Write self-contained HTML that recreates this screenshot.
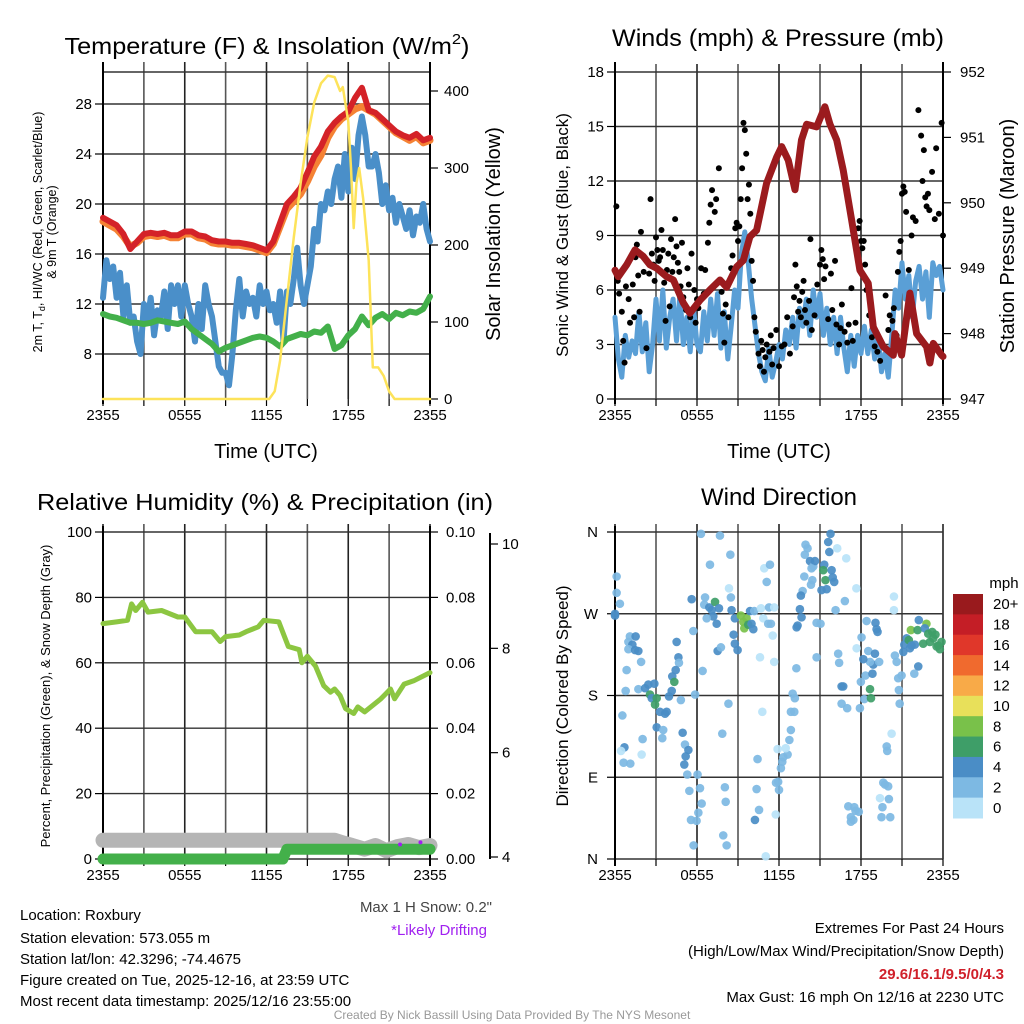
<!DOCTYPE html>
<html><head><meta charset="utf-8"><style>
html,body{margin:0;padding:0;background:#fff;}
svg{display:block;font-family:"Liberation Sans",sans-serif;}
</style></head><body>
<svg id="root" xmlns="http://www.w3.org/2000/svg" width="1024" height="1024" viewBox="0 0 1024 1024">
<rect x="0" y="0" width="1024" height="1024" fill="#fff"/>
<g id="layer"></g>
<text x="267" y="54" font-size="23" text-anchor="middle" textLength="405" lengthAdjust="spacingAndGlyphs">Temperature (F) &amp; Insolation (W/m<tspan font-size="15" dy="-10">2</tspan><tspan dy="10">)</tspan></text>
<text x="778" y="46" font-size="24" text-anchor="middle" textLength="332" lengthAdjust="spacingAndGlyphs">Winds (mph) &amp; Pressure (mb)</text>
<text x="265" y="510" font-size="23" text-anchor="middle" textLength="456" lengthAdjust="spacingAndGlyphs">Relative Humidity (%) &amp; Precipitation (in)</text>
<text x="779" y="505" font-size="24" text-anchor="middle">Wind Direction</text>
<text x="266" y="458" font-size="20" text-anchor="middle">Time (UTC)</text>
<text x="779" y="458" font-size="20" text-anchor="middle">Time (UTC)</text>
<text transform="translate(42,232) rotate(-90)" font-size="12.5" text-anchor="middle">2m T, T<tspan font-size="9" dy="3">d</tspan><tspan dy="-3">, HI/WC (Red, Green, Scarlet/Blue)</tspan></text>
<text transform="translate(56,232) rotate(-90)" font-size="12.5" text-anchor="middle">&amp; 9m T (Orange)</text>
<text transform="translate(500,234) rotate(-90)" font-size="20" text-anchor="middle">Solar Insolation (Yellow)</text>
<text transform="translate(568,235) rotate(-90)" font-size="17" text-anchor="middle">Sonic Wind &amp; Gust (Blue, Black)</text>
<text transform="translate(1014,236) rotate(-90)" font-size="20" text-anchor="middle">Station Pressure (Maroon)</text>
<text transform="translate(50,696) rotate(-90)" font-size="13" text-anchor="middle">Percent, Precipitation (Green), &amp; Snow Depth (Gray)</text>
<text transform="translate(568,696) rotate(-90)" font-size="17" text-anchor="middle">Direction (Colored By Speed)</text>
<text x="1004" y="588" font-size="15" text-anchor="middle">mph</text>
<text x="492" y="912" font-size="15" fill="#444" text-anchor="end">Max 1 H Snow: 0.2"</text>
<text x="487" y="935" font-size="15" fill="#a020f0" text-anchor="end">*Likely Drifting</text>
<g font-size="15">
<text x="20" y="920">Location: Roxbury</text>
<text x="20" y="943">Station elevation: 573.055 m</text>
<text x="20" y="964">Station lat/lon: 42.3296; -74.4675</text>
<text x="20" y="985">Figure created on Tue, 2025-12-16, at 23:59 UTC</text>
<text x="20" y="1006">Most recent data timestamp: 2025/12/16 23:55:00</text>
</g>
<g font-size="15" text-anchor="end">
<text x="1004" y="933">Extremes For Past 24 Hours</text>
<text x="1004" y="956">(High/Low/Max Wind/Precipitation/Snow Depth)</text>
<text x="1004" y="979" fill="#d0202a" font-weight="bold">29.6/16.1/9.5/0/4.3</text>
<text x="1004" y="1002">Max Gust: 16 mph On 12/16 at 2230 UTC</text>
</g>
<text x="512" y="1019" font-size="12" fill="#999" text-anchor="middle">Created By Nick Bassill Using Data Provided By The NYS Mesonet</text>
</svg>
<script>
// ---------- Panel 1 data ----------
const halfHours=[0,0.5,1,1.5,2,2.5,3,3.5,4,4.5,5,5.5,6,6.5,7,7.5,8,8.5,9,9.5,10,10.5,11,11.5,12,12.5,13,13.5,14,14.5,15,15.5,16,16.5,17,17.5,18,18.5,19,19.5,20,20.5,21,21.5,22,22.5,23,23.5,24];
const tempRed=[18.9,18.6,18.3,17.6,16.4,17.0,17.6,17.7,17.6,17.7,17.5,17.5,17.8,17.8,17.5,17.4,17.1,17.0,17.0,16.9,16.9,16.8,16.7,16.5,16.3,17.0,18.5,20.0,20.6,21.3,22.5,23.8,24.6,25.8,26.5,27.0,27.4,28.5,29.3,27.5,27.3,26.8,26.3,25.8,25.5,25.3,25.6,25.1,25.3];
const temp9mOrange=[18.6,18.3,18.0,17.4,16.6,16.9,17.4,17.5,17.4,17.5,17.3,17.3,17.6,17.6,17.3,17.2,16.9,16.8,16.8,16.7,16.7,16.6,16.5,16.3,16.1,16.8,18.2,19.6,20.2,20.8,21.8,23.0,23.9,25.3,26.2,26.8,27.2,27.6,27.8,27.5,27.2,26.7,26.2,25.7,25.4,25.1,25.4,24.9,25.1];
const windChillGreen=[11.2,11.0,10.9,10.7,10.5,10.5,10.4,10.5,10.7,10.6,10.5,10.4,10.6,10.0,9.6,9.2,8.8,8.2,8.5,8.7,8.9,9.1,9.3,9.4,9.3,9.0,8.6,9.2,9.4,9.6,9.5,9.8,9.7,10.2,8.4,8.7,9.5,10.0,11.0,10.3,10.9,11.2,10.8,11.3,11.1,11.4,11.3,11.6,12.6];
const dewpointBlue=[12.5,15.5,14,15,12.5,14.5,11,13.5,10.5,11,9,8,12,10.5,12.5,9.5,11.5,11,13,10,13.5,12,13.5,11,13.5,12,11,9,12,10,13.5,12,11,9,7,6.5,6.5,5.5,8,11.5,14,11,13,12,12.5,11,13.5,12,13,11.5,12,10.5,13,9,13,12,14,16.5,13.5,12,13.5,15,18,17,20,19.5,21,20,22,23,20.5,24,21,24.5,22,25.5,27,25.5,23,23,24,22.5,20,21.5,19.5,20.5,18.5,20,19,18,19.5,17.5,19,18.5,20,18,17];
const solarHours=[0,12.2,12.6,13,13.5,14,14.5,15,15.5,16,16.5,17,17.4,17.6,18,18.2,18.4,18.6,18.8,19.1,19.5,19.8,20.2,20.6,21,21.4,24];
const solarRad=[0,0,10,50,130,210,280,340,385,410,420,418,400,405,360,300,222,280,300,260,180,41,41,30,10,0,0];
const tempTicks=[8,12,16,20,24,28];
const solarTicks=[0,100,200,300,400];
const timeTickHours=[0,6,12,18,24];
const timeTickLabels=["2355","0555","1155","1755","2355"];
const gridHours=[0,3,6,9,12,15,18,21,24];
// ---------- Panel 2 data ----------
const windBlue=[4.5,2.2,1.2,3.5,2.3,3.2,2.5,4.8,2.6,4.2,1.5,3,5.5,3.2,6,2.8,4.5,5.5,3.2,5.8,3,4.5,2.6,5,3,2.6,4.8,3.2,5.5,3.5,5.8,2.8,4.8,2.2,4,6,5,8,9.2,7.5,5.5,4,2.5,1.5,1.0,2.8,1.2,2,3,2.2,3.8,3,4.5,2.8,5,4,5.5,3.5,6,4.5,5.8,3.5,5,3,4.5,2.5,4.5,2.8,1.5,3.5,1.8,3.5,2.5,4,2.5,3.8,2.2,3.5,1.5,2.5,1.2,3.5,6,5,7.5,5.5,6.8,4.5,6.5,7.3,5.5,7,4.5,7.5,6.8,7.3,6];
const pressureHours=[0,0.24,0.85,1.46,2.07,2.56,3.05,3.78,4.27,5.0,5.48,6.22,6.95,7.68,8.17,8.9,9.39,9.87,10.36,11.09,11.83,12.2,12.68,13.17,13.65,14.02,14.75,15.36,15.73,16.22,16.7,17.31,17.92,18.53,18.9,19.63,20.36,20.48,20.97,21.58,22.07,22.8,23.04,23.29,23.9,24];
const pressureMb=[948.97,948.87,949.05,949.28,949.18,949.05,949.0,948.87,948.82,948.47,948.31,948.51,948.67,948.82,948.71,949.02,949.12,949.48,949.58,950.3,950.7,950.86,950.65,950.2,950.96,951.2,951.16,951.47,951.2,950.96,950.5,949.74,948.97,948.77,948.1,947.8,947.67,948.0,947.67,948.62,948.0,947.8,947.55,947.85,947.67,947.65];
const gusts=[[0.1,10.6],[0.2,6.5],[0.3,5.8],[0.5,4.8],[0.6,3.2],[0.7,2.0],[0.8,6.2],[1,5.5],[1.1,4.2],[1.3,6.3],[1.4,4.5],[1.5,7.8],[1.6,8.5],[1.7,6.8],[1.8,4.8],[1.9,9.2],[2.1,7.0],[2.3,2.8],[2.5,6.9],[2.6,11.0],[2.7,8.0],[2.8,7.4],[2.9,6.5],[3.0,8.9],[3.1,8.2],[3.2,7.6],[3.3,7.8],[3.4,9.3],[3.5,8.2],[3.6,6.4],[3.7,4.3],[3.8,7.1],[3.9,8.0],[4.0,5.1],[4.1,8.8],[4.2,7.0],[4.3,7.8],[4.4,9.9],[4.5,8.4],[4.6,7.5],[4.7,7.0],[4.8,6.2],[4.9,8.6],[5.0,5.6],[5.2,4.9],[5.3,7.2],[5.4,6.3],[5.5,4.5],[5.6,8.0],[5.8,6.0],[5.9,4.2],[6.0,5.5],[6.1,5.0],[6.3,7.2],[6.5,5.8],[6.6,7.1],[6.8,8.6],[6.9,9.7],[7.0,10.7],[7.1,11.5],[7.3,10.3],[7.4,11.0],[7.6,12.7],[7.8,5.9],[7.9,4.7],[8.0,3.1],[8.1,5.2],[8.3,4.5],[8.5,7.2],[8.6,7.9],[8.8,9.4],[8.9,9.7],[9.0,8.7],[9.1,9.5],[9.2,11.0],[9.3,12.7],[9.4,15.2],[9.5,14.8],[9.6,13.5],[9.7,11.0],[9.8,11.8],[9.9,10.2],[10.0,7.6],[10.1,6.5],[10.2,4.5],[10.3,3.7],[10.5,2.5],[10.6,1.8],[10.7,3.2],[10.8,2.7],[10.9,1.5],[11.0,2.3],[11.1,3.0],[11.3,2.6],[11.4,3.5],[11.5,1.9],[11.6,2.8],[11.8,3.8],[12.0,1.8],[12.2,2.9],[12.4,3.0],[12.6,4.5],[12.8,2.5],[13.0,4.0],[13.1,5.6],[13.2,7.4],[13.3,6.2],[13.4,4.8],[13.5,5.4],[13.6,4.5],[13.7,5.9],[13.8,6.5],[13.9,4.9],[14.0,4.2],[14.2,5.4],[14.3,8.8],[14.4,3.8],[14.6,4.6],[14.8,6.3],[15.0,7.4],[15.1,8.2],[15.2,7.7],[15.3,6.6],[15.4,7.3],[15.6,4.4],[15.8,6.9],[15.9,4.9],[16.1,7.6],[16.2,4.1],[16.4,3.0],[16.5,3.9],[16.6,5.2],[16.8,3.7],[17.0,3.1],[17.1,4.1],[17.3,6.1],[17.4,3.2],[17.6,4.2],[17.8,9.4],[17.9,9.8],[18.0,8.7],[18.1,8.3],[18.2,8.7],[18.3,7.4],[18.4,6.0],[18.6,4.6],[18.8,3.4],[19.0,2.9],[19.2,2.6],[19.4,2.1],[19.6,2.9],[19.8,5.7],[20.0,3.8],[20.1,4.6],[20.3,4.3],[20.4,5.0],[20.6,3.5],[20.7,7.0],[20.8,8.1],[20.9,8.7],[21.0,11.3],[21.1,11.7],[21.2,11.4],[21.3,10.3],[21.5,7.1],[21.7,9.0],[21.8,10.0],[22.0,9.8],[22.2,15.9],[22.4,14.5],[22.5,12.0],[22.6,13.7],[22.7,11.1],[22.8,10.6],[22.9,11.3],[23.0,10.4],[23.2,12.5],[23.4,9.9],[23.5,13.8],[23.7,10.2],[23.9,15.2],[24.0,9.0]];
const windTicks=[0,3,6,9,12,15,18];
const pressureTicks=[947,948,949,950,951,952];
// ---------- Panel 3 data ----------
const rhHours=[0,1,1.8,2.1,2.4,2.9,3.3,4.3,5.5,6,6.8,8,8.6,9,10,10.5,11.4,11.8,12.9,13.6,14.4,14.6,15,15.6,16.2,16.7,17,17.4,17.8,18.4,18.7,19.2,20.4,21.1,21.4,22.1,22.8,24];
const rhPct=[72,72.5,73,78,76,78.5,75.5,76,74,74,69.5,69.5,66.5,68,68.5,69.5,71,73,72.5,65,64,60,62,59,53,51,52,50,46,44.5,46.5,45,49,52,49,53.5,54.5,57];
const precipHours=[0,13.2,13.5,24];
const precipIn=[0,0,0.003,0.003];
const snowHours=[0,17,17.6,18.3,19.2,20.0,20.8,21.6,22.4,23.2,24];
const snowDepth=[4.32,4.32,4.27,4.22,4.15,4.22,4.12,4.2,4.24,4.18,4.22];
const driftHours=[21.8,23.3];
const driftDepth=[4.24,4.28];
const rhTicks=[0,20,40,60,80,100];
const precipTicks=[0,0.02,0.04,0.06,0.08,0.1];
const precipTickLabels=["0.00","0.02","0.04","0.06","0.08","0.10"];
const snowTicks=[4,6,8,10];
// ---------- Panel 4 data ----------
const dirObs=[[0.12,311,3],[0.12,293,3],[0.36,281,3],[0.0,270,5],[0.0,268,4.5],[1.09,245,3],[1.51,245,5],[0.98,239,3],[1.27,236,5],[0.98,231,3],[1.47,230,5],[1.71,229,5],[1.91,217,3],[0.85,208,3],[0.78,185,3],[1.71,187,3],[2.2,188,4.5],[2.44,192,4.5],[2.88,193,5],[2.56,181,7],[2.69,177,4.5],[3.05,177,7],[2.93,170,7],[3.29,162,5],[3.66,160,5],[3.78,162,5],[4.51,239,5],[4.64,222,5],[4.68,216,3],[4.44,208,5],[4.19,201,4.5],[4.34,195,7],[4.15,185,5],[3.95,179,5],[4.82,175,3],[0.54,158,3],[0.69,123,5],[0.44,119,1],[0.63,106,3],[1.12,105,3],[2.02,132,3],[1.95,115,1],[3.05,145,5],[3.53,142,3],[3.46,133,3],[4.95,139,5],[5.12,126,3],[5.37,120,5],[5.17,113,5],[5.07,104,5],[5.29,93,3],[5.44,75,3],[5.86,181,3],[6.04,93,3],[6.22,78,3],[6.34,61,3],[6.1,51,3],[5.56,43,3],[5.97,42,3],[5.75,15,3],[7.92,26,3],[8.17,15,3],[8.1,63,3],[8.04,79,3],[7.85,138,3],[8.3,171,3],[5.61,286,5],[5.73,251,3],[6.41,207,3],[6.29,358,3],[7.68,356,3],[6.95,324,3],[8.44,335,3],[8.34,298,1],[8.48,288,3],[6.59,288,3],[6.53,280,3],[6.9,277,5],[7.08,274,5],[7.32,283,7],[7.61,276,5],[7.19,267,5],[7.44,259,5],[6.71,265,3],[7.51,229,5],[7.75,233,3],[8.53,274,5],[8.77,265,5],[8.68,247,5],[8.77,237,5],[8.97,230,5],[9.21,268,9],[9.39,261,9],[9.63,265,9],[9.46,254,9],[9.75,258,7],[9.99,259,5],[10.12,253,5],[9.88,273,5],[10.19,273,3],[10.68,276,1],[10.85,265,1],[11.21,259,3],[11.41,259,3],[11.27,277,3],[11.65,277,1],[11.54,246,1],[10.61,222,1],[11.65,217,1],[10.92,320,1],[11.34,324,3],[11.1,305,3],[13.27,210,3],[13.0,182,3],[13.16,177,3],[10.78,162,1],[12.87,162,3],[13.12,162,3],[12.87,142,3],[12.76,131,3],[12.63,115,3],[12.49,122,1],[12.31,112,3],[12.24,107,3],[12.14,100,3],[11.9,121,1],[11.94,85,3],[11.78,84,3],[12.0,76,3],[10.43,110,3],[10.36,77,3],[10.54,54,3],[10.24,43,5],[11.76,49,1],[11.03,3,1],[13.94,346,3],[14.09,342,3],[13.89,335,3],[14.27,328,5],[14.51,322,3],[14.63,328,5],[14.38,320,3],[13.85,311,3],[14.44,307,3],[14.34,302,3],[13.73,295,3],[13.6,290,5],[13.53,275,5],[13.65,266,5],[13.36,257,5],[13.29,255,5],[15.31,324,5],[15.24,318,7],[15.85,318,5],[15.40,307,7],[15.93,310,5],[16.04,305,5],[15.11,296,5],[15.49,297,5],[15.68,338,5],[15.77,358,5],[15.6,349,5],[16.26,342,1],[16.92,331,1],[17.66,298,1],[16.82,284,3],[16.14,274,3],[14.75,260,3],[15.04,259,3],[14.75,222,3],[16.33,226,3],[16.4,216,3],[16.58,190,5],[16.7,190,5],[16.58,171,3],[16.99,166,3],[17.92,166,3],[18.24,176,3],[17.99,195,3],[18.33,202,3],[18.84,204,5],[18.9,214,5],[18.66,217,3],[18.17,220,5],[18.53,229,3],[19.02,226,5],[19.33,217,3],[18.41,262,3],[19.06,260,5],[19.21,250,5],[19.14,253,5],[18.04,244,3],[17.68,232,1],[18.66,187,7],[18.73,177,7],[19.88,124,3],[19.92,119,3],[20.24,138,1],[19.63,84,3],[19.75,82,3],[19.99,80,3],[19.39,67,1],[19.57,57,3],[20.04,66,3],[19.5,46,3],[20.14,46,3],[17.07,58,3],[17.51,57,3],[17.6,53,3],[17.84,52,3],[17.26,46,3],[17.44,43,3],[17.26,41,3],[20.41,289,1],[20.41,274,1],[20.48,224,3],[20.61,217,3],[20.72,199,3],[20.97,202,3],[20.77,186,3],[20.83,171,3],[22.19,212,5],[21.9,204,3],[21.17,236,5],[21.1,228,5],[21.34,243,5],[21.5,241,7],[21.65,252,9],[22.14,252,7],[22.23,263,5],[22.79,259,9],[22.67,254,5],[22.92,248,7],[23.21,250,7],[23.45,247,7],[22.55,237,7],[23.04,239,7],[23.29,243,7],[23.65,235,7],[23.77,231,7],[23.89,239,7],[23.53,234,7],[21.94,236,5],[21.7,235,5],[21.58,232,5]];
const dirTicks=[0,90,180,270,360];
const dirTickLabels=["N","E","S","W","N"];
const speedBins=[0,2,4,6,8,10,12,14,16,18,20];
const speedBinLabels=["0","2","4","6","8","10","12","14","16","18","20+"];
const speedColors=["#b9e3f8","#7db9e3","#4a8dc6","#3e9e68","#79c14a","#e8e05a","#f8aa48","#f06a2e","#e0372a","#c41e26","#991a1d"];

// ---------- helpers ----------
const NS='http://www.w3.org/2000/svg';
const root=document.getElementById('layer');
function mk(tag,attrs,parent){const e=document.createElementNS(NS,tag);for(const k in attrs)e.setAttribute(k,attrs[k]);(parent||root).appendChild(e);return e;}
function lin(d0,d1,r0,r1){return v=>r0+(v-d0)*(r1-r0)/(d1-d0);}
function pathD(xs,ys,fx,fy){let d='';for(let i=0;i<xs.length;i++){d+=(i?'L':'M')+fx(xs[i]).toFixed(1)+','+fy(ys[i]).toFixed(1);}return d;}
function txt(x,y,s,size,anchor,parent){const t=mk('text',{x:x,y:y,'font-size':size,'text-anchor':anchor},parent);t.textContent=s;return t;}

function panelFrame(px0,px1,py0,py1,fx,gridYVals,fy,name,topExt){
  const g=mk('g',{});
  
  
  gridHours.forEach(h=>{
    const l=mk('line',{x1:fx(h),x2:fx(h),y1:py0-topExt,y2:py1,stroke:(h%6===0)?'#222':'#555','stroke-width':1.6},g);
    
    
  });
  gridYVals.forEach(v=>{
    const l=mk('line',{x1:px0,x2:px1,y1:fy(v),y2:fy(v),stroke:'#333','stroke-width':1.4},g);
    
    
  });
  const xt=mk('g',{},g);
  
  
  gridHours.forEach(h=>{
    const l=mk('line',{x1:fx(h),x2:fx(h),y1:py1,y2:py1+7,stroke:'#000','stroke-width':1.2},xt);
    
    
  });
  timeTickHours.forEach((h,i)=>{
    const t=txt(fx(h),py1+21,timeTickLabels[i],15,'middle',xt);
    
    
  });
}
function yAxis(x,py0,py1,ticks,labels,fy,side,name,labelX){
  const g=mk('g',{});
  
  
  const ax=mk('line',{x1:x,x2:x,y1:py0,y2:py1,stroke:'#000','stroke-width':2},g);
  
  
  ticks.forEach((v,i)=>{
    const y=fy(v);
    const l=mk('line',{x1:x,x2:x+side*8,y1:y,y2:y,stroke:'#000','stroke-width':1.2},g);
    
    
    const t=txt(labelX,y+5,labels[i],15,side<0?'end':'start',g);
    
    
  });
}
function series(d,color,w,name,parent){
  const p=mk('path',{d:d,fill:'none',stroke:color,'stroke-width':w,'stroke-linejoin':'round','stroke-linecap':'round'},parent);
  
  
  return p;
}

// ---------- Panel 1 ----------
const x1=lin(0,24,103,430), yT=lin(8,28,354,104), yS=lin(0,400,399,91);
panelFrame(103,430,72,399,x1,[8,12,16,20,24,28,30.56],yT,'temp',10);
yAxis(103,62,404,tempTicks,tempTicks.map(String),yT,-1,'temp-y-axis',92);
yAxis(430,62,404,solarTicks,solarTicks.map(String),yS,1,'solar-y-axis',444);
const quarterHours=dewpointBlue.map((_,i)=>i/4);
series(pathD(quarterHours,dewpointBlue,x1,yT),'#4a8fc9',6,'dewpoint-line');
series(pathD(halfHours,windChillGreen,x1,yT),'#43b04a',6,'wind-chill-line');
series(pathD(halfHours,temp9mOrange,x1,yT),'#f58234',7,'temp-9m-line');
series(pathD(halfHours,tempRed,x1,yT),'#d42228',6,'temp-2m-line');
series(pathD(solarHours,solarRad,x1,yS),'#fde35a',2.5,'solar-line');

// ---------- Panel 2 ----------
const x2=lin(0,24,615,943), yW=lin(0,18,399,72), yP=lin(947,952,399,72);
panelFrame(615,943,72,399,x2,windTicks,yW,'winds',8);
yAxis(615,62,404,windTicks,windTicks.map(String),yW,-1,'wind-y-axis',604);
yAxis(943,62,404,pressureTicks,pressureTicks.map(String),yP,1,'pressure-y-axis',960);
const windHours=windBlue.map((_,i)=>i/4);
series(pathD(windHours,windBlue,x2,yW),'#5a9fd6',5,'sonic-wind-line');
const gg=mk('g',{});


gusts.forEach(p=>{
  const c=mk('circle',{cx:x2(p[0]),cy:yW(p[1]),r:3,fill:'#000'},gg);
  
  
});
series(pathD(pressureHours,pressureMb,x2,yP),'#9b1b1e',7,'pressure-line');

// ---------- Panel 3 ----------
const x3=lin(0,24,103,430), yR=lin(0,100,859,532), yPr=lin(0,0.1,859,532), ySn=lin(4,10,857,544);
panelFrame(103,430,532,859,x3,rhTicks,yR,'humidity',8);
yAxis(103,526,866,rhTicks,rhTicks.map(String),yR,-1,'humidity-y-axis',92);
yAxis(430,526,866,precipTicks,precipTickLabels,yPr,1,'precip-y-axis',446);
yAxis(490,533,859,snowTicks,snowTicks.map(String),ySn,1,'snow-y-axis',502);
series(pathD(snowHours,snowDepth,x3,ySn),'#b5b5b5',15,'snow-depth-line');
series(pathD(precipHours,precipIn,x3,yPr),'#43b04a',11,'precip-line');
series(pathD(rhHours,rhPct,x3,yR),'#8cc641',5,'humidity-line');
driftHours.forEach((h,i)=>{
  const c=mk('circle',{cx:x3(h),cy:ySn(driftDepth[i]),r:2,fill:'#a020f0'});
  
  
});

// ---------- Panel 4 ----------
const x4=lin(0,24,615,943), yD=lin(0,360,859,532);
panelFrame(615,943,532,859,x4,dirTicks,yD,'direction',8);
yAxis(615,526,866,dirTicks,dirTickLabels,yD,-1,'direction-y-axis',598);
function speedColor(s){let k=0;for(let i=0;i<speedBins.length;i++){if(s>=speedBins[i])k=i;}return speedColors[k];}
const dg=mk('g',{});


dirObs.forEach(p=>{
  const c=mk('circle',{cx:x4(p[0]),cy:yD(p[1]),r:4.3,fill:speedColor(p[2]),'fill-opacity':0.92},dg);
  
  
});
// colorbar
const cb=mk('g',{});


const cbTop=594, cbH=224/speedBins.length;
speedBins.forEach((b,i)=>{
  const k=speedBins.length-1-i;
  const r=mk('rect',{x:953,y:cbTop+i*cbH,width:30,height:cbH+0.5,fill:speedColors[k]},cb);
  
  
  const t=txt(993,cbTop+i*cbH+cbH/2+5,speedBinLabels[k],15,'start',cb);
  
  
});
</script>
</body></html>
